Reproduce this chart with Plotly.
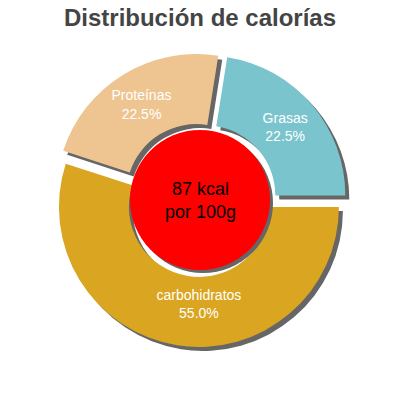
import plotly.graph_objects as go

title = "Distribución de calorías"
labels = ["Grasas", "carbohidratos", "Proteínas"]
values = [22.5, 55.0, 22.5]
colors = ["#7AC5CD", "#DAA520", "#EEC591"]
center_lines = ["87 kcal", "por 100g"]

W = H = 400
R_pull = 0.05
half = 147  # half of domain size in px
cx, cy = 200, 200
sh = 4  # shadow offset px

def dom(dx=0, dy=0):
    return dict(
        x=[(cx - half + dx) / W, (cx + half + dx) / W],
        y=[(H - cy - half - dy) / H, (H - cy + half - dy) / H],
    )

fig = go.Figure()
fig.add_trace(go.Pie(
    labels=labels, values=values, sort=False, direction="clockwise", rotation=9,
    pull=[R_pull] * len(values), hole=0.5,
    marker=dict(colors=["#666666"] * len(values), line=dict(width=0)),
    textinfo="none", hoverinfo="skip", showlegend=False, domain=dom(sh, sh),
))
fig.add_trace(go.Pie(
    labels=labels, values=values, sort=False, direction="clockwise", rotation=9,
    pull=[R_pull] * len(values), hole=0.5,
    marker=dict(colors=colors, line=dict(width=0)),
    texttemplate="%{label}<br>%{percent:.1%}", textposition="inside",
    insidetextorientation="horizontal",
    textfont=dict(family="Liberation Sans, Arial", size=14, color="white"),
    showlegend=False, domain=dom(),
))

r_in = 70
fig.add_shape(type="circle", xref="paper", yref="paper",
              x0=(cx - r_in + 3) / W, x1=(cx + r_in + 3) / W,
              y0=(H - cy - r_in - 3) / H, y1=(H - cy + r_in - 3) / H,
              fillcolor="#666666", line=dict(width=0), layer="above")
fig.add_shape(type="circle", xref="paper", yref="paper",
              x0=(cx - r_in) / W, x1=(cx + r_in) / W,
              y0=(H - cy - r_in) / H, y1=(H - cy + r_in) / H,
              fillcolor="#FF0000", line=dict(width=0), layer="above")
fig.add_annotation(text="<br>".join(center_lines), xref="paper", yref="paper",
                   x=cx / W, y=(H - cy) / H, showarrow=False,
                   font=dict(family="Liberation Sans, Arial", size=18, color="black"))

fig.update_layout(
    width=W, height=H, margin=dict(l=0, r=0, t=0, b=0),
    paper_bgcolor="white", plot_bgcolor="white",
    title=dict(text="<b>" + title + "</b>", x=0.5, xanchor="center", y=0.955, yanchor="middle",
               font=dict(family="Liberation Sans, Arial", size=24, color="#444444")),
)
fig.write_html("out.html", config={"displayModeBar": False},
               post_script="document.body.style.margin='0';")
